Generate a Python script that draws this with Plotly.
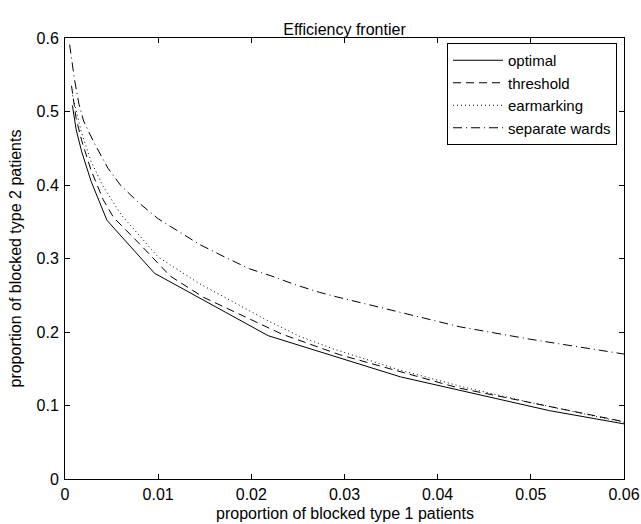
import plotly.graph_objects as go

# Data
opt_x = [0.0008, 0.0012, 0.0018, 0.0028, 0.0045, 0.0096, 0.0218, 0.036, 0.052, 0.06]
opt_y = [0.508, 0.475, 0.445, 0.405, 0.352, 0.280, 0.195, 0.139, 0.093, 0.075]

thr_x = [0.0007, 0.0012, 0.0018, 0.0028, 0.0041, 0.0052, 0.0083, 0.0113, 0.0149, 0.0233, 0.0295, 0.0422, 0.06]
thr_y = [0.535, 0.49, 0.46, 0.42, 0.38, 0.356, 0.316, 0.276, 0.247, 0.197, 0.169, 0.124, 0.078]

ear_x = [0.0008, 0.0012, 0.0018, 0.0028, 0.0041, 0.006, 0.010, 0.0144, 0.018, 0.0216, 0.0252, 0.0288, 0.036, 0.0428, 0.05, 0.06]
ear_y = [0.522, 0.50, 0.47, 0.432, 0.398, 0.36, 0.302, 0.266, 0.241, 0.2165, 0.194, 0.177, 0.148, 0.125, 0.104, 0.077]

sep_x = [0.0005, 0.001, 0.0015, 0.002, 0.0031, 0.0046, 0.006, 0.008, 0.010, 0.01446, 0.0173, 0.0198, 0.0222, 0.0248, 0.0273, 0.0291, 0.0424, 0.05, 0.06]
sep_y = [0.591, 0.545, 0.51, 0.487, 0.458, 0.423, 0.399, 0.375, 0.354, 0.319, 0.301, 0.286, 0.276, 0.264, 0.254, 0.248, 0.207, 0.19, 0.17]

x_ticks = [0, 0.01, 0.02, 0.03, 0.04, 0.05, 0.06]
x_tick_text = ["0", "0.01", "0.02", "0.03", "0.04", "0.05", "0.06"]
y_ticks = [0, 0.1, 0.2, 0.3, 0.4, 0.5, 0.6]
y_tick_text = ["0", "0.1", "0.2", "0.3", "0.4", "0.5", "0.6"]

x_title = "proportion of blocked type 1 patients"
y_title = "proportion of blocked type 2 patients"
chart_title = "Efficiency frontier"

FONT = "Liberation Sans, Arial, Helvetica, sans-serif"
FS = 16

W, H = 641, 524
ML, MR, MT, MB = 65, 17, 38, 45
PW, PH = W - ML - MR, H - MT - MB

fig = go.Figure()
series = [
    ("optimal", opt_x, opt_y, "solid"),
    ("threshold", thr_x, thr_y, "8px,5px"),
    ("earmarking", ear_x, ear_y, "1px,3px"),
    ("separate wards", sep_x, sep_y, "9px,4px,1px,4px"),
]
for name, xs, ys, dash in series:
    fig.add_trace(go.Scatter(x=xs, y=ys, mode="lines", name=name,
                             line=dict(color="black", width=1, dash=dash)))

axis_common = dict(
    showgrid=False, zeroline=False, showline=True, linecolor="black", linewidth=1,
    mirror="ticks", ticks="inside", ticklen=5, tickcolor="black",
    tickfont=dict(family=FONT, size=FS, color="black"), automargin=False,
    ticklabeloverflow="allow",
)
fig.update_xaxes(range=[0, 0.06], tickvals=x_ticks, ticktext=x_tick_text,
                 ticklabelstandoff=1, **axis_common)
fig.update_yaxes(range=[0, 0.6], tickvals=y_ticks, ticktext=y_tick_text,
                 ticklabelstandoff=2, **axis_common)

fig.add_annotation(text=x_title, xref="paper", yref="paper",
                   x=0.5, y=-(513 - (H - MB)) / PH, xanchor="center", yanchor="middle",
                   showarrow=False, font=dict(family=FONT, size=FS, color="black"))
fig.add_annotation(text=y_title, xref="paper", yref="paper", textangle=-90,
                   x=(15 - ML) / PW, y=0.5, xanchor="center", yanchor="middle",
                   showarrow=False, font=dict(family=FONT, size=FS, color="black"))

fig.update_layout(
    width=W, height=H,
    margin=dict(l=ML, r=MR, t=MT, b=MB),
    paper_bgcolor="white", plot_bgcolor="white",
    title=dict(text=chart_title, xref="paper", x=0.5, xanchor="center",
               y=1 - 29 / H, yanchor="middle",
               font=dict(family=FONT, size=FS, color="black")),
    font=dict(family=FONT, size=FS, color="black"),
    showlegend=True,
    legend=dict(x=(617 - ML) / PW, y=(H - MB - 43) / PH, xanchor="right", yanchor="top",
                bgcolor="white", bordercolor="black", borderwidth=1,
                font=dict(family=FONT, size=15, color="black"),
                itemwidth=50, tracegroupgap=0),
)

fig.write_html("out.html",
               config={"displayModeBar": False},
               post_script="document.body.style.margin='0';document.body.style.overflow='hidden';")
